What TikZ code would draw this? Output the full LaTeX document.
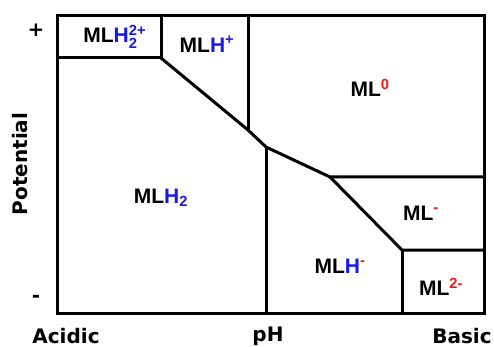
\documentclass[tikz,border=0pt]{standalone}
\usepackage{fontspec}
\usepackage{amsmath}
\setmainfont{Liberation Sans}
\newfontfamily\axisfont{DejaVu Sans}
\usetikzlibrary{calc}
\definecolor{protonblue}{RGB}{25,25,235}
\definecolor{chargered}{RGB}{235,25,25}
\newcommand{\Hp}[1]{\textcolor{protonblue}{#1}}
\newcommand{\chg}[1]{\textcolor{chargered}{#1}}
\tikzset{
  border/.style={line width=3pt},
  species/.style={font=\bfseries\fontsize{21}{24}\selectfont},
  axislabel/.style={font=\axisfont\bfseries\fontsize{20}{24}\selectfont}
}

\begin{document}
\begin{tikzpicture}[x=1pt,y=-1pt]
    \useasboundingbox (0,0) rectangle (494,347);

    % region corners
    \coordinate (tl) at (57,16);
    \coordinate (br) at (484,313);
    \coordinate (a) at (161,58);
    \coordinate (b) at (248,130);
    \coordinate (c) at (266,147);
    \coordinate (d) at (330,177);
    \coordinate (e) at (402,250);

    \draw[border] (tl) rectangle (br);
    \draw[border] (tl |- a) -- (a) -- (a |- tl);
    \draw[border] (a) -- (b) -- (c) -- (d) -- (d -| br);
    \draw[border] (b) -- (b |- tl);
    \draw[border] (c) -- (c |- br);
    \draw[border] (d) -- (e) -- (e -| br);
    \draw[border] (e) -- (e |- br);

    % species
    \node[species] (mlhtwoplus) at (116,37) {ML\Hp{H}$_{\text{\Hp{2}}}^{\text{\Hp{2+\,}}}$};
    \node[species] (mlhplus) at (207,44) {ML\Hp{H}$^{\text{\Hp{+}}}$};
    \node[species] (mlzero) at (370,88) {ML$^{\text{\chg{0}}}$};
    \node[species] (mlhtwo) at (161,198) {ML\Hp{H}$_{\text{\Hp{2}}}$};
    \node[species] (mlminus) at (421,213) {ML$^{\text{\chg{-}}}$};
    \node[species] (mlhminus) at (340,266) {ML\Hp{H}$^{\text{\chg{-}}}$};
    \node[species] (mltwominus) at (441,287) {ML$^{\text{\chg{2-}}}$};

    % axes
    \node[axislabel] (plus) at (36,30) {+};
    \node[axislabel] (minus) at (36,299) {-};
    \node[axislabel, rotate=90] (potential) at (20,164) {Potential};
    \node[axislabel] (acidic) at (66,336) {Acidic};
    \node[axislabel] (ph) at (268,336) {pH};
    \node[axislabel] (basic) at (462,336) {Basic};

\end{tikzpicture}
\end{document}
